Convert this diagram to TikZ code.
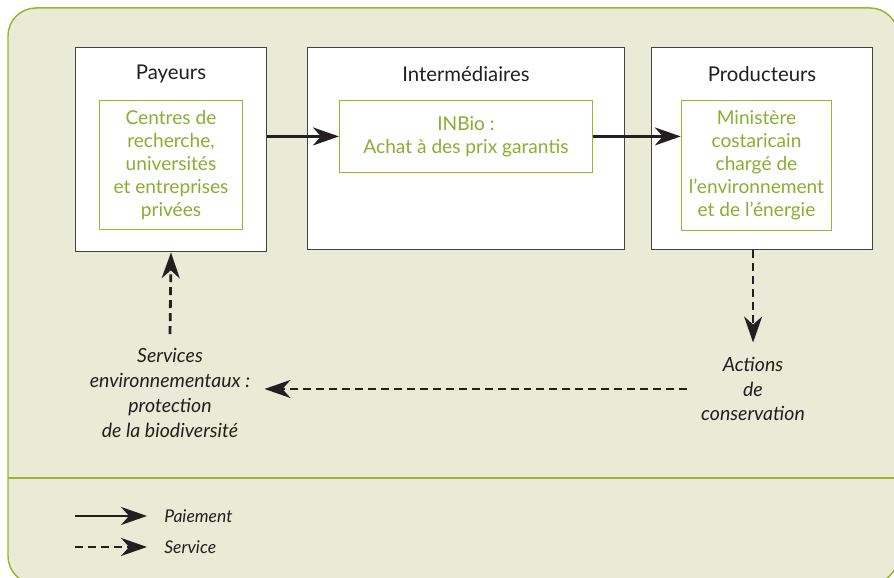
\documentclass[tikz,border=0pt]{standalone}
\usepackage{fontspec}
\setmainfont{Lato}
\usepackage{tikz}
\usetikzlibrary{arrows.meta,calc,positioning}

\definecolor{fondvert}{HTML}{E9EBD6}
\definecolor{bordvert}{HTML}{9CB52F}
\definecolor{textevert}{HTML}{8AAE33}
\definecolor{gristrait}{HTML}{231F20}

\tikzset{
    acteur/.style={draw=gristrait!85, line width=0.8pt, fill=white, inner sep=0pt},
    titre/.style={text=gristrait, font=\fontsize{10.2}{12}\selectfont},
    detail/.style={draw=bordvert, line width=0.6pt, text=textevert, align=center,
        inner sep=0pt, font=\fontsize{9.6}{11.5}\selectfont},
    flux/.style={align=center, text=gristrait, inner sep=7pt,
        font=\fontsize{9.8}{12.5}\selectfont\itshape},
    paiement/.style={line width=1.4pt, gristrait, -{Stealth[length=13pt, width=9pt, inset=4pt]}},
    service/.style={paiement, dash pattern=on 4pt off 2.5pt}
}

\begin{document}
\begin{tikzpicture}[scale=1.7638, >=Stealth]

    %% Background
    \useasboundingbox (0,0) rectangle (8.94,5.78);
    \draw[bordvert, line width=0.75pt, fill=fondvert, rounded corners=14pt]
        (0.08,5.70) rectangle (8.98,-0.06);
    \draw[bordvert, line width=0.75pt] (0.08,1.00) -- (8.98,1.00);

    % Acteurs
    \node[acteur, minimum width=96pt, minimum height=102.5pt] (pay) at (1.71,4.285) {};
    \node[acteur, minimum width=159pt, minimum height=101.5pt] (inter) at (4.66,4.295) {};
    \node[acteur, minimum width=111pt, minimum height=101.5pt] (prod) at (7.62,4.295) {};

    \node[titre] (tpay) at (1.71,5.04) {Payeurs};
    \node[titre] (tinter) at (4.66,5.04) {Intermédiaires};
    \node[titre] (tprod) at (7.62,5.04) {Producteurs};

    \node[detail, minimum width=72pt, minimum height=65pt] (centres) at (1.71,4.13)
        {Centres de\\recherche,\\universités\\et entreprises\\privées};
    \node[detail, minimum width=127pt, minimum height=36.5pt] (inbio) at (4.66,4.415)
        {INBio :\\Achat à des prix garantis};
    \node[detail, minimum width=75.5pt, minimum height=65.5pt] (minae) at (7.565,4.125)
        {Ministère\\costaricain\\chargé de\\l’environnement\\et de l’énergie};

    % Flux
    \node[flux] (serv) at (1.70,1.85)
        {Services\\environnementaux :\\protection\\de la biodiversité};
    \node[flux] (act) at (7.53,1.89) {Actions\\de\\conservation};

    \draw[paiement] (pay.east |- inbio.west) -- (inbio.west);
    \draw[paiement] (inbio.east) -- (minae.west |- inbio.east);
    \draw[service] (serv.north) -- (pay.south);
    \draw[service] (prod.south -| act.north) -- (act.north);
    \draw[service] (act.west |- 0,1.89) -- (serv.east |- 0,1.89);

    % Legende
    \coordinate (lp) at (0.75,0.62);
    \coordinate (ls) at (0.75,0.31);
    \draw[paiement] (lp) -- ++(0.72,0) node[flux, anchor=west, inner sep=0pt, xshift=8pt,
        font=\fontsize{8.8}{10}\selectfont\itshape] (tlp) {Paiement};
    \draw[service] (ls) -- ++(0.72,0) node[flux, anchor=west, inner sep=0pt, xshift=8pt,
        font=\fontsize{8.8}{10}\selectfont\itshape] (tls) {Service};

\end{tikzpicture}
\end{document}
